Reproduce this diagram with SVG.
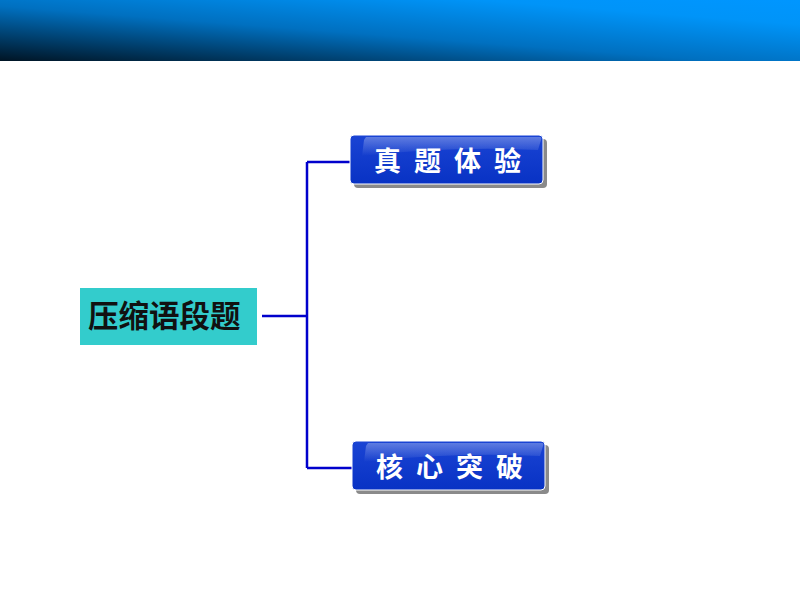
<svg xmlns="http://www.w3.org/2000/svg" width="800" height="600" viewBox="0 0 800 600">
<defs>
<linearGradient id="hdr" x1="0" y1="1" x2="1" y2="0" gradientUnits="objectBoundingBox">
<stop offset="0" stop-color="#001424"/>
<stop offset="0.45" stop-color="#0070C0"/>
<stop offset="0.8" stop-color="#0094F8"/>
<stop offset="1" stop-color="#0096FF"/>
</linearGradient>
<linearGradient id="btn" x1="0" y1="0" x2="0" y2="1">
<stop offset="0" stop-color="#1A44D4"/>
<stop offset="1" stop-color="#0832C4"/>
</linearGradient>
<linearGradient id="gloss" x1="0" y1="0" x2="0" y2="1">
<stop offset="0" stop-color="#ffffff" stop-opacity="0.3"/>
<stop offset="1" stop-color="#ffffff" stop-opacity="0"/>
</linearGradient>
<style>
.conn{stroke:#0000CC;stroke-width:2.5;fill:none}
.shadow{fill:#8a8a8a}
.btn{fill:url(#btn);stroke:#ffffff;stroke-width:1}
.btxt{font-family:"Liberation Sans","Noto Sans CJK SC",sans-serif;font-size:27px;font-weight:bold;fill:#ffffff;letter-spacing:13px}
.ttxt{font-family:"Liberation Sans","Noto Sans CJK SC",sans-serif;font-size:30.5px;font-weight:bold;fill:#111111}
</style>
</defs>
<rect x="0" y="0" width="800" height="61" fill="url(#hdr)"/>
<g id="connectors">
<path class="conn" d="M262 316 H307"/>
<path class="conn" d="M307 162 V468"/>
<path class="conn" d="M307 162 H351"/>
<path class="conn" d="M307 468 H353"/>
</g>
<g id="root">
<rect x="80" y="288" width="177" height="57" fill="#33CCCC"/>
<text class="ttxt" x="88" y="327">压缩语段题</text>
</g>
<g id="node1">
<rect class="shadow" x="354" y="139" width="193" height="49" rx="4"/>
<rect class="btn" x="350" y="135" width="193" height="49" rx="4"/>
<path d="M366 137 H540 Q542 137 541 140 L538 150 Q450 146 362 156 L364 140 Z" fill="url(#gloss)"/>
<text class="btxt" x="374" y="171">真题体验</text>
</g>
<g id="node2">
<rect class="shadow" x="356" y="445" width="193" height="49" rx="4"/>
<rect class="btn" x="352" y="441" width="193" height="49" rx="4"/>
<path d="M368 443 H542 Q544 443 543 446 L540 456 Q452 452 364 462 L366 446 Z" fill="url(#gloss)"/>
<text class="btxt" x="376" y="477">核心突破</text>
</g>
</svg>
